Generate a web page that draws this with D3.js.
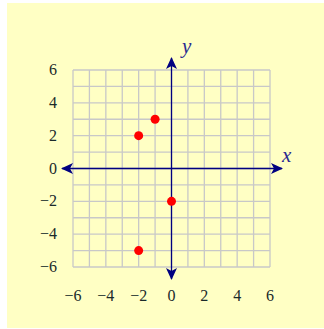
<!DOCTYPE html>
<html>
<head>
<meta charset="utf-8">
<script src="https://cdn.jsdelivr.net/npm/d3@7"></script>
<style>
  body { margin: 0; background: #fff; }
  text { font-family: "Liberation Serif", "Times New Roman", serif; }
</style>
</head>
<body>
<script>
const width = 324
const height = 329

// data
const xTicks = [-6, -4, -2, 0, 2, 4, 6]
const yTicks = [-6, -4, -2, 0, 2, 4, 6]
const pointsX = [-2, -1, 0, -2]
const pointsY = [2, 3, -2, -5]

let svg = d3.select('body').append('svg')
    .attr('width', width)
    .attr('height', height)

// yellow panel
svg.append('rect')
    .attr('x', 7).attr('y', 3)
    .attr('width', 317).attr('height', 325)
    .attr('fill', '#ffffc4')

let x = d3.scaleLinear().domain([-6, 6]).range([73, 270])
let y = d3.scaleLinear().domain([-6, 6]).range([267, 70])

// GRID
let grid = svg.append('g')
d3.range(-6, 7).forEach(function(v) {
    grid.append('line')
        .attr('x1', x(v)).attr('x2', x(v))
        .attr('y1', y(-6)).attr('y2', y(6))
        .attr('stroke', '#c8c8c8').attr('stroke-width', 1.3)
    grid.append('line')
        .attr('x1', x(-6)).attr('x2', x(6))
        .attr('y1', y(v)).attr('y2', y(v))
        .attr('stroke', '#c8c8c8').attr('stroke-width', 1.3)
})

// AXES
const navy = '#000080'
let defs = svg.append('defs')
defs.append('marker')
    .attr('id', 'arrow')
    .attr('viewBox', '0 0 12 12')
    .attr('refX', 11).attr('refY', 6)
    .attr('markerWidth', 12).attr('markerHeight', 12)
    .attr('markerUnits', 'userSpaceOnUse')
    .attr('orient', 'auto-start-reverse')
    .append('path')
    .attr('d', 'M0,0.5 L12,6 L0,11.5 L3,6 Z')
    .attr('fill', navy)

svg.append('line')
    .attr('x1', x(-6) - 11).attr('x2', x(6) + 12)
    .attr('y1', y(0)).attr('y2', y(0))
    .attr('stroke', navy).attr('stroke-width', 1.3)
    .attr('marker-start', 'url(#arrow)')
    .attr('marker-end', 'url(#arrow)')

svg.append('line')
    .attr('x1', x(0)).attr('x2', x(0))
    .attr('y1', y(-6) + 12).attr('y2', y(6) - 12)
    .attr('stroke', navy).attr('stroke-width', 1.3)
    .attr('marker-start', 'url(#arrow)')
    .attr('marker-end', 'url(#arrow)')

// TICK LABELS
const fmt = d => d < 0 ? '\u2212' + Math.abs(d) : String(d)

svg.append('g').selectAll('text')
    .data(xTicks)
    .join('text')
    .attr('x', d => x(d))
    .attr('y', 301)
    .attr('text-anchor', 'middle')
    .attr('font-size', 16)
    .attr('fill', '#1a2a2a')
    .text(fmt)

svg.append('g').selectAll('text')
    .data(yTicks)
    .join('text')
    .attr('x', 57)
    .attr('y', d => y(d) + 5)
    .attr('text-anchor', 'end')
    .attr('font-size', 16)
    .attr('fill', '#1a2a2a')
    .text(fmt)

// AXIS NAMES
svg.append('text')
    .attr('x', 282).attr('y', 162)
    .attr('font-style', 'italic')
    .attr('font-size', 21)
    .attr('fill', '#2a2a90')
    .text('x')

svg.append('text')
    .attr('x', 182).attr('y', 53)
    .attr('font-style', 'italic')
    .attr('font-size', 21)
    .attr('fill', '#2a2a90')
    .text('y')

// POINTS
svg.append('g').selectAll('circle')
    .data(pointsX)
    .join('circle')
    .attr('cx', d => x(d))
    .attr('cy', (d, i) => y(pointsY[i]))
    .attr('r', 4.5)
    .attr('fill', '#ff0000')
</script>
</body>
</html>
